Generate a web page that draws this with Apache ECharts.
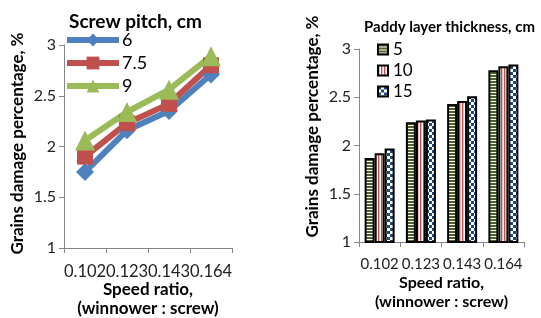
<!DOCTYPE html>
<html>
<head>
<meta charset="utf-8">
<script src="https://cdn.jsdelivr.net/npm/echarts@6/dist/echarts.min.js"></script>
<style>
    html, body { margin: 0; padding: 0; background: #fff; }
    #main { width: 541px; height: 318px; }
</style>
</head>
<body>
<div id="main"></div>
<script>
    const speedRatios = ['0.102', '0.123', '0.143', '0.164']

    // left chart: screw pitch, cm
    const pitchNames = ['6', '7.5', '9']
    const pitch6 = [1.75, 2.16, 2.35, 2.71]
    const pitch75 = [1.90, 2.23, 2.42, 2.80]
    const pitch9 = [2.06, 2.34, 2.56, 2.89]

    // right chart: paddy layer thickness, cm
    const layerNames = ['5', '10', '15']
    const layer5 = [1.87, 2.24, 2.43, 2.78]
    const layer10 = [1.92, 2.26, 2.46, 2.82]
    const layer15 = [1.97, 2.27, 2.51, 2.84]

    const yTicks = [1, 1.5, 2, 2.5, 3]

    const font = 'Lato, "Liberation Sans", sans-serif'

    // fill patterns for the bars
    function makePattern(kind) {
        let c = document.createElement('canvas')
        let ctx
        if (kind === 'hstripe') {
            c.width = 4; c.height = 3
            ctx = c.getContext('2d')
            ctx.fillStyle = '#fff'
            ctx.fillRect(0, 0, 4, 3)
            ctx.fillStyle = '#4f6228'
            ctx.fillRect(0, 0, 4, 2)
        } else if (kind === 'vstripe') {
            c.width = 3; c.height = 4
            ctx = c.getContext('2d')
            ctx.fillStyle = '#fff'
            ctx.fillRect(0, 0, 3, 4)
            ctx.fillStyle = '#c0504d'
            ctx.fillRect(0, 0, 1, 4)
            ctx.fillStyle = '#f0b8b6'
            ctx.fillRect(1, 0, 1, 4)
        } else {
            c.width = 6; c.height = 6
            ctx = c.getContext('2d')
            ctx.fillStyle = '#fff'
            ctx.fillRect(0, 0, 6, 6)
            ctx.fillStyle = '#1f497d'
            ctx.fillRect(0, 0, 3, 3)
            ctx.fillRect(3, 3, 3, 3)
        }
        return { image: c, repeat: 'repeat' }
    }

    const axisGray = '#868686'

    function yAxisOf(gridIndex, nameGap, shiftUp) {
        return {
            type: 'value',
            gridIndex: gridIndex,
            min: 1,
            max: 3,
            interval: 0.5,
            name: 'Grains damage percentage, %',
            nameLocation: 'middle',
            nameGap: nameGap,
            nameMoveOverlap: false,
            nameTextStyle: {
                fontFamily: font, fontWeight: 'bold', fontSize: 17, color: '#000',
                padding: [0, 0, 0, shiftUp * 2]
            },
            axisLine: { show: true, lineStyle: { color: axisGray, width: 1 } },
            axisTick: { show: true, length: 5, lineStyle: { color: axisGray } },
            axisLabel: {
                fontFamily: font, fontSize: 16, color: '#222', margin: 8,
                formatter: function (v) { return yTicks.indexOf(v) >= 0 ? String(v) : '' }
            },
            splitLine: { show: false }
        }
    }

    function xAxisOf(gridIndex, labelSize, nameSize, labelMargin, nameGap) {
        return {
            type: 'category',
            gridIndex: gridIndex,
            data: speedRatios,
            name: 'Speed ratio,\n(winnower : screw)',
            nameLocation: 'middle',
            nameGap: nameGap,
            nameMoveOverlap: false,
            nameTextStyle: { fontFamily: font, fontWeight: 'bold', fontSize: nameSize, color: '#000', lineHeight: 19, verticalAlign: 'top' },
            axisLine: { show: true, lineStyle: { color: axisGray, width: 1 } },
            axisTick: { show: true, length: 5, alignWithLabel: false, lineStyle: { color: axisGray } },
            axisLabel: { interval: 0, fontFamily: font, fontSize: labelSize, color: '#222', margin: labelMargin },
            splitLine: { show: false }
        }
    }

    function lineSeries(name, data, color, symbol, size) {
        return {
            name: name,
            type: 'line',
            xAxisIndex: 0,
            yAxisIndex: 0,
            data: data,
            symbol: symbol,
            symbolSize: size,
            lineStyle: { color: color, width: 6 },
            itemStyle: { color: color },
            z: 3
        }
    }

    function barSeries(name, data, kind) {
        return {
            name: name,
            type: 'bar',
            xAxisIndex: 1,
            yAxisIndex: 1,
            data: data,
            barWidth: 10,
            barGap: '0%',
            itemStyle: { color: makePattern(kind), borderColor: '#000', borderWidth: 2 }
        }
    }

    const myChart = echarts.init(document.getElementById('main'))

    myChart.setOption({
        animation: false,
        backgroundColor: '#fff',
        title: [
            { text: 'Screw pitch, cm', left: 64, top: 7, textStyle: { fontFamily: font, fontWeight: 'bold', fontSize: 19, color: '#000' } },
            { text: 'Paddy layer thickness, cm', left: 359, top: 15, textStyle: { fontFamily: font, fontWeight: 'bold', fontSize: 15, color: '#000' } }
        ],
        legend: [
            {
                data: pitchNames,
                orient: 'vertical',
                left: 59,
                top: 26,
                itemWidth: 52,
                itemHeight: 16,
                itemGap: 5,
                lineStyle: { width: 6 },
                textStyle: { fontFamily: font, fontSize: 18, color: '#000', padding: [0, 0, 0, -2] }
            },
            {
                data: layerNames,
                orient: 'vertical',
                left: 372,
                top: 36,
                itemWidth: 10,
                itemHeight: 10,
                itemGap: 4,
                icon: 'rect',
                textStyle: { fontFamily: font, fontSize: 17, color: '#000' }
            }
        ],
        grid: [
            { left: 64, right: 309, top: 45, bottom: 70, outerBoundsMode: 'none' },
            { left: 359, right: 17, top: 49, bottom: 76, outerBoundsMode: 'none' }
        ],
        xAxis: [xAxisOf(0, 16.5, 17, 15, 32), xAxisOf(1, 15, 16, 15, 31)],
        yAxis: [yAxisOf(0, 38, 3), yAxisOf(1, 38, 19)],
        series: [
            lineSeries('6', pitch6, '#4f81bd', 'diamond', 18),
            lineSeries('7.5', pitch75, '#c0504d', 'rect', 16),
            lineSeries('9', pitch9, '#9bbb59', 'triangle', 20),
            barSeries('5', layer5, 'hstripe'),
            barSeries('10', layer10, 'vstripe'),
            barSeries('15', layer15, 'check')
        ]
    })
</script>
</body>
</html>
